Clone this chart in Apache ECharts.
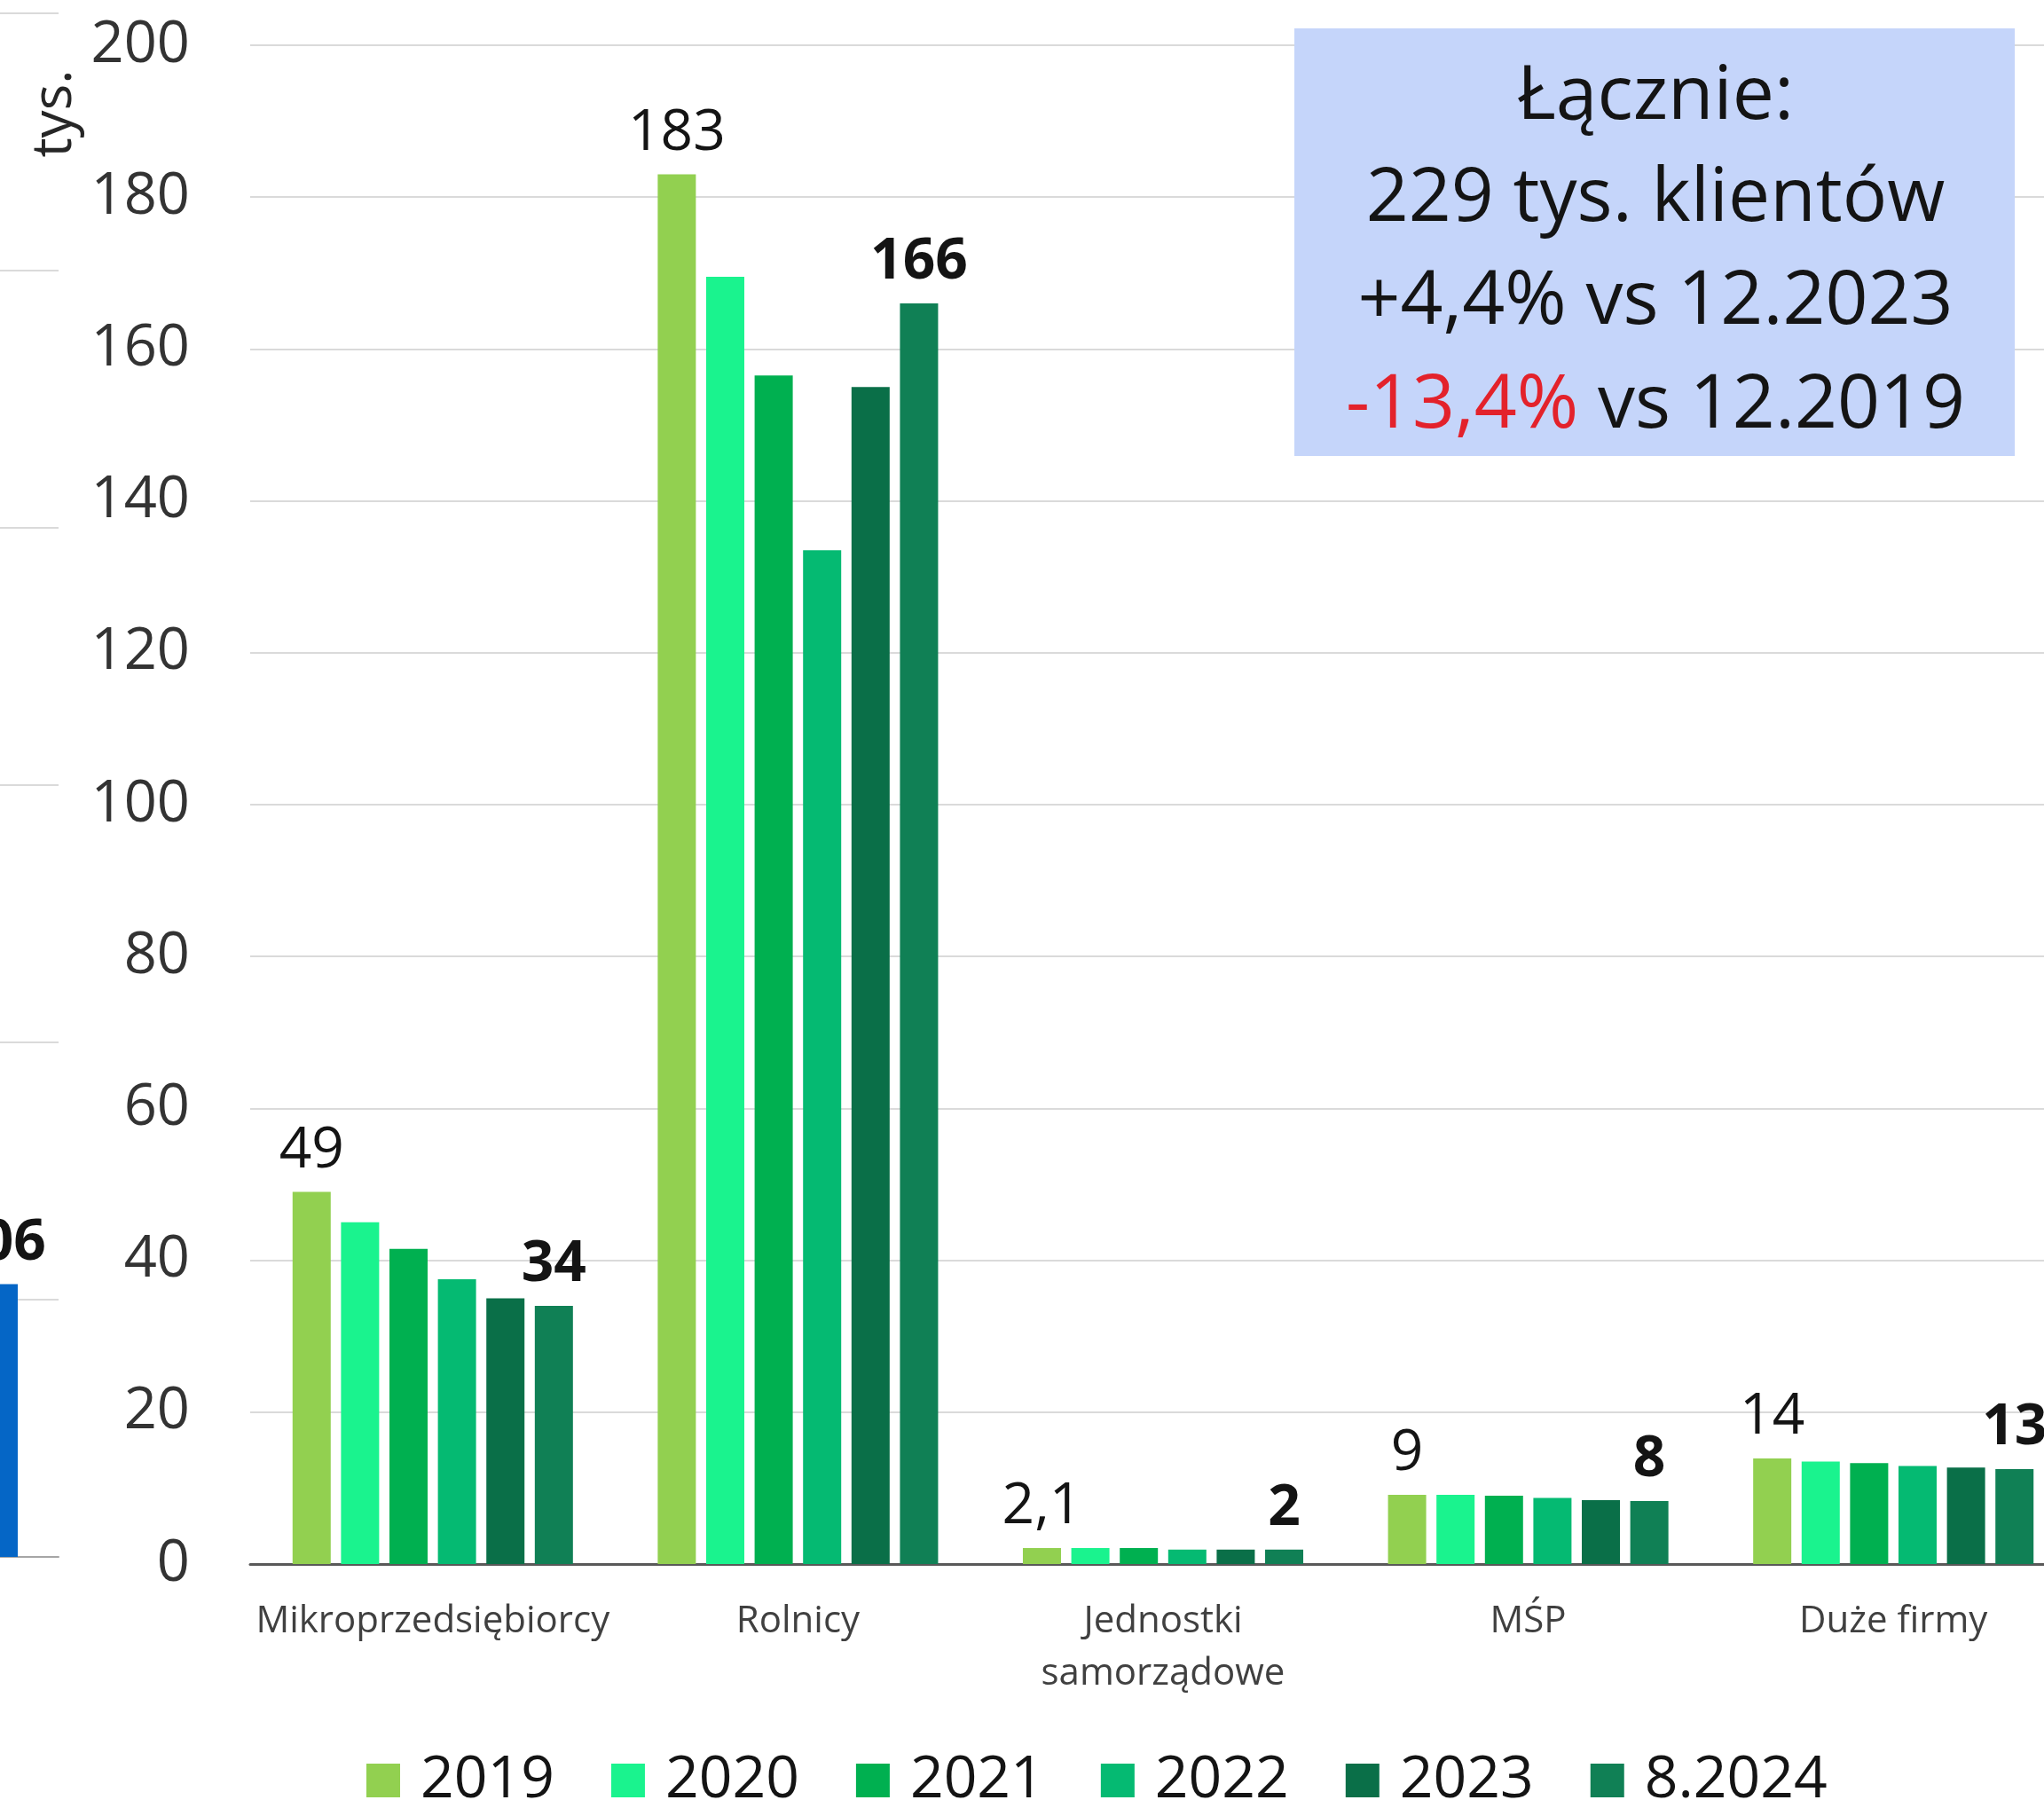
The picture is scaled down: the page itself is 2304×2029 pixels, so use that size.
<!DOCTYPE html>
<html>
<head>
<meta charset="utf-8">
<script src="https://cdn.jsdelivr.net/npm/echarts@6/dist/echarts.min.js"></script>
<style>
  html, body { margin: 0; padding: 0; background: #fff; }
  #chart { width: 2304px; height: 2029px; }
</style>
</head>
<body>
<div id="chart"></div>
<script>
// kategorie klientów
var categories = ['Mikroprzedsiębiorcy', 'Rolnicy', 'Jednostki\nsamorządowe', 'MŚP', 'Duże firmy'];
var years = ['2019', '2020', '2021', '2022', '2023', '8.2024'];

// liczba klientów, tys.
var v2019 = [49, 183, 2.1, 9.1, 13.9];
var v2020 = [45, 169.5, 2.1, 9.1, 13.5];
var v2021 = [41.5, 156.5, 2.1, 9.0, 13.3];
var v2022 = [37.5, 133.5, 1.9, 8.7, 12.9];
var v2023 = [35, 155, 1.9, 8.4, 12.7];
var v2024 = [34, 166, 1.9, 8.3, 12.5];

// etykiety nad słupkami
var labels2019 = ['49', '183', '2,1', '9', '14'];
var labels2024 = ['34', '166', '2', '8', '13'];

// fragment sąsiedniego wykresu (lewa krawędź)
var leftValue = [106];

var yTicks = { min: 0, max: 200, interval: 20 };

var colors = ['#92D050', '#1AF38E', '#00B050', '#05BA72', '#0A6F48', '#108055'];
var font = 'Open Sans';

var chart = echarts.init(document.getElementById('chart'));

var allValues = [v2019, v2020, v2021, v2022, v2023, v2024];
var series = years.map(function (y, i) {
  var s = {
    name: y,
    type: 'bar',
    xAxisIndex: 0,
    yAxisIndex: 0,
    data: allValues[i],
    barWidth: 43,
    barGap: '27%',
    itemStyle: { color: colors[i] },
    label: { show: false }
  };
  if (i === 0 || i === 5) {
    s.label = {
      show: true,
      position: 'top',
      distance: 14,
      fontFamily: font,
      fontSize: 64,
      color: '#141414',
      fontWeight: i === 5 ? 'bold' : 'normal',
      formatter: function (p) {
        return i === 0 ? labels2019[p.dataIndex] : labels2024[p.dataIndex];
      }
    };
  }
  return s;
});

series.push({
  name: 'left',
  type: 'bar',
  xAxisIndex: 1,
  yAxisIndex: 1,
  data: leftValue,
  barWidth: 46,
  itemStyle: { color: '#0566C6' },
  label: {
    show: true,
    position: 'top',
    distance: 14,
    fontFamily: font,
    fontSize: 64,
    fontWeight: 'bold',
    color: '#141414'
  }
});

var option = {
  backgroundColor: '#ffffff',
  animation: false,
  grid: [
    { left: 282, top: 51, width: 2058, bottom: 266, containLabel: false, outerBoundsMode: 'none' },
    { left: -72, top: 15, width: 138, bottom: 274, containLabel: false, outerBoundsMode: 'none' }
  ],
  xAxis: [
    {
      type: 'category',
      gridIndex: 0,
      data: categories,
      axisTick: { show: false },
      axisLine: { lineStyle: { color: '#595959', width: 3 } },
      axisLabel: {
        fontFamily: font,
        fontSize: 42,
        color: '#404040',
        lineHeight: 59,
        margin: 36,
        interval: 0
      }
    },
    {
      type: 'category',
      gridIndex: 1,
      data: ['a'],
      axisTick: { show: false },
      axisLabel: { show: false },
      axisLine: { lineStyle: { color: '#A6A6A6', width: 2 } }
    }
  ],
  yAxis: [
    {
      type: 'value',
      gridIndex: 0,
      min: yTicks.min,
      max: yTicks.max,
      interval: yTicks.interval,
      axisLine: { show: false },
      axisTick: { show: false },
      splitLine: { lineStyle: { color: '#DADADA', width: 2 } },
      axisLabel: {
        fontFamily: font,
        fontSize: 65,
        color: '#333333',
        margin: 68
      }
    },
    {
      type: 'value',
      gridIndex: 1,
      min: 0,
      max: 600,
      interval: 100,
      axisLine: { show: false },
      axisTick: { show: false },
      axisLabel: { show: false },
      splitLine: { lineStyle: { color: '#DADADA', width: 2 } }
    }
  ],
  legend: {
    data: years,
    left: 413,
    top: 1972,
    padding: 0,
    itemGap: 64,
    itemWidth: 38,
    itemHeight: 38,
    icon: 'rect',
    textStyle: {
      fontFamily: font,
      fontSize: 66,
      color: '#141414',
      lineHeight: 70,
      padding: [0, 0, 0, 18]
    }
  },
  series: series,
  graphic: [
    {
      type: 'text',
      x: 62,
      y: 128,
      rotation: Math.PI / 2,
      style: {
        text: 'tys.',
        fontFamily: font,
        fontSize: 62,
        fill: '#262626',
        align: 'center',
        verticalAlign: 'middle'
      }
    },
    {
      type: 'rect',
      shape: { x: 1459, y: 32, width: 812, height: 482 },
      style: { fill: '#C5D5FA' },
      z: 10
    },
    {
      type: 'text', x: 1866, y: 110, z: 11,
      style: { text: 'Łącznie:', fontFamily: font, fontSize: 84, fill: '#141414', align: 'center', verticalAlign: 'middle' }
    },
    {
      type: 'text', x: 1866, y: 225, z: 11,
      style: { text: '229 tys. klientów', fontFamily: font, fontSize: 84, fill: '#141414', align: 'center', verticalAlign: 'middle' }
    },
    {
      type: 'text', x: 1866, y: 341, z: 11,
      style: { text: '+4,4% vs 12.2023', fontFamily: font, fontSize: 84, fill: '#141414', align: 'center', verticalAlign: 'middle' }
    },
    {
      type: 'text', x: 1866, y: 458, z: 11,
      style: {
        text: '{r|-13,4%} vs 12.2019',
        fontFamily: font, fontSize: 84, fill: '#141414', align: 'center', verticalAlign: 'middle',
        rich: { r: { fill: '#E3222B', fontFamily: font, fontSize: 84 } }
      }
    }
  ]
};

chart.setOption(option);
</script>
</body>
</html>
